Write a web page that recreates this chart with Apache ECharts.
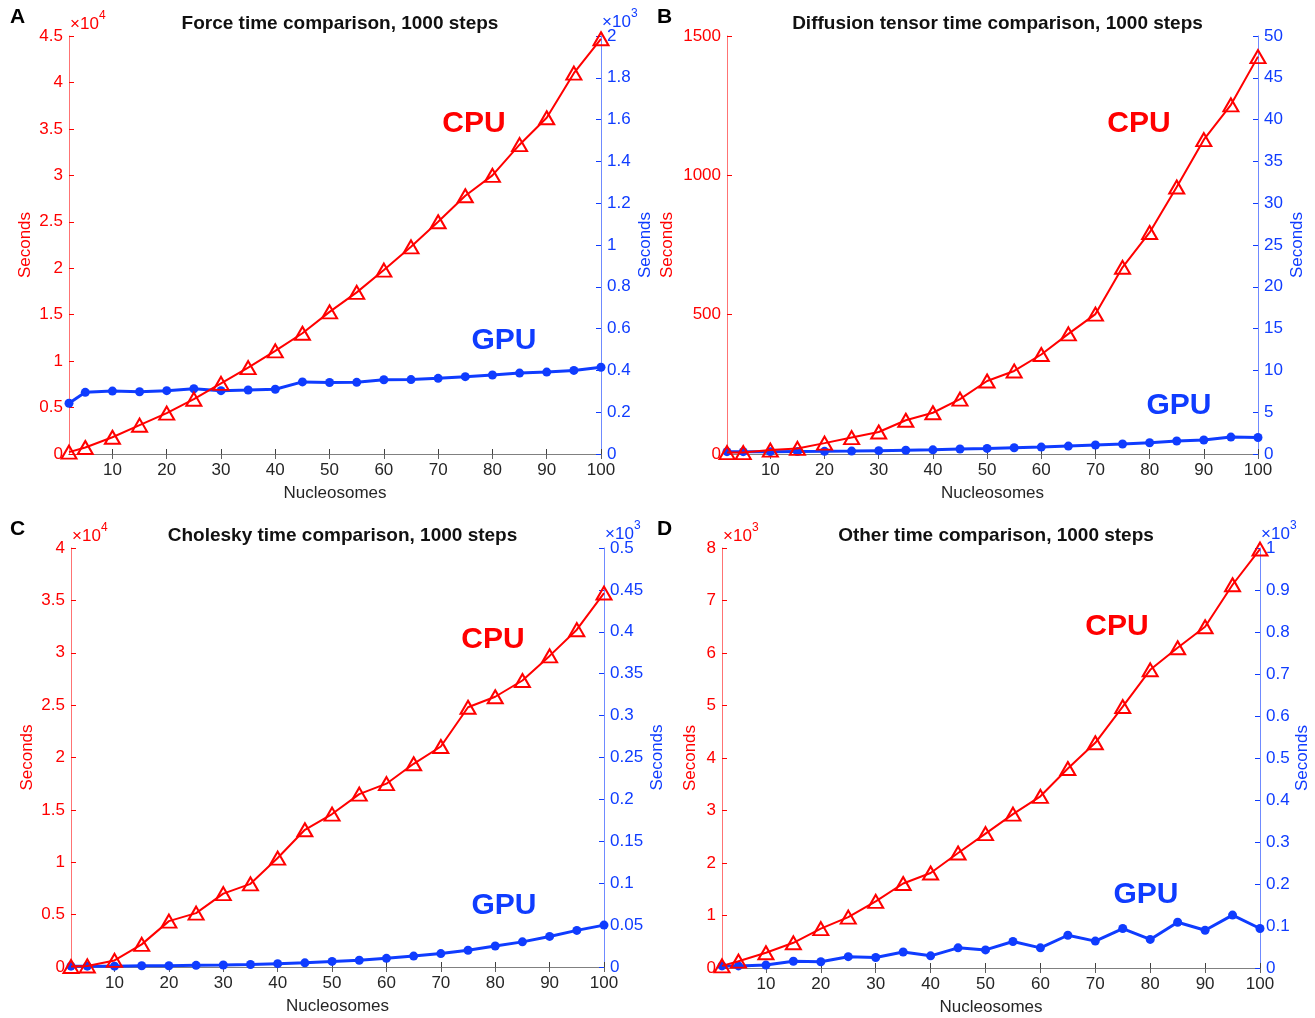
<!DOCTYPE html>
<html lang="en" style="height: 100%">
<head>
<meta charset="utf-8">
<title>CPU vs GPU time comparison</title>
</head>
<body style="height: 100%; margin: 0; background: #fff">
<div id="container" style="width: 1315px; height: 1018px"></div>

<script type="text/javascript" src="https://cdn.jsdelivr.net/npm/echarts@6/dist/echarts.min.js"></script>

<script type="text/javascript">

// number of nucleosomes (x values shared by all panels)
var nucleosomes = [2, 5, 10, 15, 20, 25, 30, 35, 40, 45, 50, 55, 60, 65, 70, 75, 80, 85, 90, 95, 100];
var xTicks = [10, 20, 30, 40, 50, 60, 70, 80, 90, 100];

// A: force, CPU in 1e4 s, GPU in 1e3 s
var forceCpu = [0.02, 0.07, 0.18, 0.31, 0.44, 0.59, 0.76, 0.93, 1.11, 1.30, 1.53, 1.74, 1.98, 2.23, 2.50, 2.78, 3.00, 3.33, 3.62, 4.10, 4.47];
var forceGpu = [0.243, 0.295, 0.301, 0.298, 0.303, 0.312, 0.303, 0.306, 0.31, 0.345, 0.342, 0.343, 0.355, 0.356, 0.362, 0.37, 0.378, 0.387, 0.392, 0.40, 0.415];

// B: diffusion tensor, CPU in s, GPU in s
var diffCpu = [5, 5, 14, 20, 39, 59, 79, 121, 148, 197, 262, 298, 357, 431, 502, 670, 795, 958, 1128, 1253, 1426];
var diffGpu = [0.28, 0.28, 0.28, 0.3, 0.32, 0.35, 0.4, 0.45, 0.5, 0.6, 0.67, 0.75, 0.83, 0.95, 1.07, 1.19, 1.35, 1.55, 1.67, 2.02, 1.98];

// C: cholesky, CPU in 1e4 s, GPU in 1e3 s
var cholCpu = [0.005, 0.01, 0.063, 0.216, 0.438, 0.514, 0.70, 0.794, 1.04, 1.31, 1.46, 1.65, 1.75, 1.94, 2.105, 2.48, 2.58, 2.735, 2.97, 3.22, 3.57];
var cholGpu = [0.001, 0.001, 0.001, 0.0015, 0.0015, 0.002, 0.0024, 0.003, 0.004, 0.005, 0.0067, 0.008, 0.0103, 0.013, 0.016, 0.020, 0.025, 0.030, 0.0365, 0.0437, 0.050];

// D: other, CPU in 1e3 s, GPU in 1e3 s
var otherCpu = [0.04, 0.13, 0.29, 0.48, 0.75, 0.97, 1.27, 1.61, 1.81, 2.19, 2.56, 2.93, 3.27, 3.80, 4.29, 4.98, 5.68, 6.10, 6.50, 7.30, 7.98];
var otherGpu = [0.005, 0.005, 0.007, 0.016, 0.015, 0.027, 0.025, 0.038, 0.029, 0.048, 0.043, 0.063, 0.048, 0.078, 0.064, 0.094, 0.068, 0.109, 0.090, 0.126, 0.094];

var RED = '#ff0000';
var BLUE = '#0f3cff';
var FONT = 'Liberation Sans, Arial, Helvetica, sans-serif';

var panels = [
    {letter: 'A', title: 'Force time comparison, 1000 steps', grid: {left: 69, top: 36, width: 532, height: 418},
     cpu: forceCpu, gpu: forceGpu, lmax: 4.5, lint: 0.5, rmax: 2, rint: 0.2, lexp: '4', rexp: '3',
     lgap: 35, rgap: 36, cpuPos: [474, 124], gpuPos: [504, 341]},
    {letter: 'B', title: 'Diffusion tensor time comparison, 1000 steps', grid: {left: 727, top: 36, width: 531, height: 418},
     cpu: diffCpu, gpu: diffGpu, lmax: 1500, lint: 500, rmax: 50, rint: 5, lexp: null, rexp: null,
     lgap: 51, rgap: 31, cpuPos: [1139, 124], gpuPos: [1179, 406]},
    {letter: 'C', title: 'Cholesky time comparison, 1000 steps', grid: {left: 71, top: 548, width: 533, height: 419},
     cpu: cholCpu, gpu: cholGpu, lmax: 4, lint: 0.5, rmax: 0.5, rint: 0.05, lexp: '4', rexp: '3',
     lgap: 35, rgap: 45, cpuPos: [493, 640], gpuPos: [504, 906]},
    {letter: 'D', title: 'Other time comparison, 1000 steps', grid: {left: 722, top: 548, width: 538, height: 420},
     cpu: otherCpu, gpu: otherGpu, lmax: 8, lint: 1, rmax: 1, rint: 0.1, lexp: '3', rexp: '3',
     lgap: 23, rgap: 31, cpuPos: [1117, 627], gpuPos: [1146, 895]}
];

function pairs(ys) {
    return nucleosomes.map(function (x, i) { return [x, ys[i]]; });
}

function plain(v) {
    return String(+v.toFixed(4));
}

var grids = [], xAxes = [], yAxes = [], series = [], titles = [], graphics = [];

panels.forEach(function (p, i) {
    grids.push(p.grid);
    titles.push({
        text: p.title, left: p.grid.left + p.grid.width / 2, top: p.grid.top - 27, textAlign: 'center',
        textStyle: {fontFamily: FONT, fontSize: 19, fontWeight: 'bold', color: '#111'}
    });
    // bottom axis
    xAxes.push({
        type: 'value', gridIndex: i, min: 2, max: 100, position: 'bottom',
        name: 'Nucleosomes', nameLocation: 'middle', nameGap: 31,
        nameTextStyle: {fontFamily: FONT, fontSize: 17, color: '#262626'},
        axisLine: {lineStyle: {color: '#404040', width: 1}},
        axisTick: {inside: true, length: 5, customValues: xTicks, lineStyle: {color: '#404040'}},
        axisLabel: {customValues: xTicks, margin: 8, fontFamily: FONT, fontSize: 17, color: '#262626'},
        splitLine: {show: false}
    });
    // top box line with ticks
    xAxes.push({
        type: 'value', gridIndex: i, min: 2, max: 100, position: 'top',
        axisLine: {lineStyle: {color: '#808080', width: 1}},
        axisTick: {inside: true, length: 5, customValues: xTicks, lineStyle: {color: '#606060'}},
        axisLabel: {show: false}, splitLine: {show: false}
    });
    yAxes.push({
        type: 'value', gridIndex: i, position: 'left', min: 0, max: p.lmax, interval: p.lint,
        name: 'Seconds', nameLocation: 'middle', nameGap: p.lgap, nameRotate: 90,
        nameTextStyle: {fontFamily: FONT, fontSize: 17, color: RED},
        axisLine: {show: true, lineStyle: {color: 'rgba(255,0,0,0.55)', width: 1}},
        axisTick: {show: true, inside: true, length: 5, lineStyle: {color: RED}},
        axisLabel: {margin: 6, fontFamily: FONT, fontSize: 17, color: RED, formatter: plain},
        splitLine: {show: false}
    });
    yAxes.push({
        type: 'value', gridIndex: i, position: 'right', min: 0, max: p.rmax, interval: p.rint,
        name: 'Seconds', nameLocation: 'middle', nameGap: p.rgap, nameRotate: 90,
        nameTextStyle: {fontFamily: FONT, fontSize: 17, color: BLUE},
        axisLine: {show: true, lineStyle: {color: 'rgba(15,60,255,0.6)', width: 1}},
        axisTick: {show: true, inside: true, length: 5, lineStyle: {color: BLUE}},
        axisLabel: {margin: 6, fontFamily: FONT, fontSize: 17, color: BLUE, formatter: plain},
        splitLine: {show: false}
    });
    series.push({
        type: 'line', name: 'GPU', xAxisIndex: 2 * i, yAxisIndex: 2 * i + 1, data: pairs(p.gpu),
        symbol: 'circle', symbolSize: 9, clip: false, z: 2,
        lineStyle: {color: BLUE, width: 3}, itemStyle: {color: BLUE}
    });
    series.push({
        type: 'line', name: 'CPU', xAxisIndex: 2 * i, yAxisIndex: 2 * i, data: pairs(p.cpu),
        symbol: 'triangle', symbolSize: [15, 13], clip: false, z: 3,
        lineStyle: {color: RED, width: 2}, itemStyle: {color: 'rgba(255,255,255,0)', borderColor: RED, borderWidth: 2}
    });

    graphics.push({type: 'text', left: (i % 2 === 0) ? 10 : 657, top: p.grid.top - 29,
        style: {text: p.letter, font: 'bold 21px ' + FONT, fill: '#000'}});

    graphics.push({type: 'text', x: p.cpuPos[0], y: p.cpuPos[1],
        style: {text: 'CPU', font: 'bold 30px ' + FONT, fill: RED, align: 'center', verticalAlign: 'middle'}});
    graphics.push({type: 'text', x: p.gpuPos[0], y: p.gpuPos[1],
        style: {text: 'GPU', font: 'bold 30px ' + FONT, fill: BLUE, align: 'center', verticalAlign: 'middle'}});

    var gx = p.grid.left, gy = p.grid.top, gr = p.grid.left + p.grid.width;
    if (p.lexp) {
        graphics.push({type: 'text', x: gx + 1, y: gy - 3,
            style: {text: '\u00d710', font: '17px ' + FONT, fill: RED, verticalAlign: 'bottom'}});
        graphics.push({type: 'text', x: gx + 30, y: gy - 14,
            style: {text: p.lexp, font: '12px ' + FONT, fill: RED, verticalAlign: 'bottom'}});
    }
    if (p.rexp) {
        graphics.push({type: 'text', x: gr + 1, y: gy - 5,
            style: {text: '\u00d710', font: '17px ' + FONT, fill: BLUE, verticalAlign: 'bottom'}});
        graphics.push({type: 'text', x: gr + 30, y: gy - 16,
            style: {text: p.rexp, font: '12px ' + FONT, fill: BLUE, verticalAlign: 'bottom'}});
    }
});

var myChart = echarts.init(document.getElementById('container'), null, {renderer: 'canvas'});

var option = {
    backgroundColor: '#fff',
    animation: false,
    title: titles,
    grid: grids,
    xAxis: xAxes,
    yAxis: yAxes,
    series: series,
    graphic: graphics
};

myChart.setOption(option);
window.addEventListener('resize', myChart.resize);
</script>
</body>
</html>
